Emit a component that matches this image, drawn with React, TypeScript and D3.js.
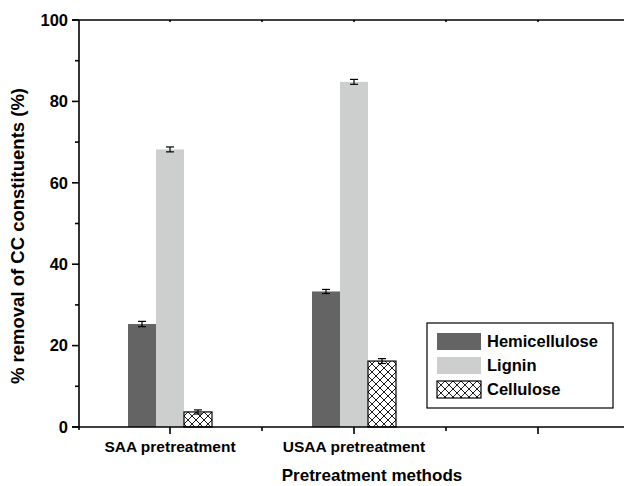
import React from "react";
import * as d3 from "d3";

const categories = ["SAA pretreatment", "USAA pretreatment", ""];
const seriesNames = ["Hemicellulose", "Lignin", "Cellulose"];
const hemicellulose = [25.3, 33.3];
const lignin = [68.2, 84.8];
const cellulose = [3.7, 16.2];
const hemiErr = [0.65, 0.5];
const ligninErr = [0.6, 0.6];
const celluloseErr = [0.5, 0.6];
const yTicks = [0, 20, 40, 60, 80, 100];
const yMinorTicks = [10, 30, 50, 70, 90];
const xMajor = [1, 2, 3];
const xMinor = [1.5, 2.5];

const W = 624;
const H = 486;
const FONT = "'Liberation Sans', Arial, sans-serif";

export default function App() {
  const y = d3.scaleLinear().domain([0, 100]).range([427, 20]);
  const x = d3.scaleLinear().domain([0.5, 3.5]).range([78, 630]);
  const sub = d3.scaleBand<string>().domain(seriesNames).range([-42, 42]).padding(0);
  const values = [hemicellulose, lignin, cellulose];
  const errs = [hemiErr, ligninErr, celluloseErr];
  const fills = ["#646464", "#cdcfce", "url(#hatch)"];
  const x0 = 79;
  const y0 = y(0);
  const yTop = y(100);

  return (
    <svg width={W} height={H} style={{ position: "absolute", left: 0, top: 0, background: "#fff" }}>
      <defs>
        <pattern id="hatch" patternUnits="userSpaceOnUse" width={8} height={8}>
          <rect width={8} height={8} fill="#fff" />
          <path d="M0,0 L8,8 M8,0 L0,8 M-1,7 L1,9 M7,-1 L9,1 M-1,1 L1,-1 M7,9 L9,7" stroke="#000" strokeWidth={0.9} />
        </pattern>
      </defs>
      {/* bars */}
      {values.map((vals, si) =>
        vals.map((v, ci) => {
          const bx = x(ci + 1) + (sub(seriesNames[si]) as number);
          const bw = sub.bandwidth();
          return (
            <g key={`${si}-${ci}`}>
              <rect
                x={bx}
                y={y(v)}
                width={bw}
                height={y0 - y(v)}
                fill={fills[si]}
                stroke={si === 2 ? "#000" : "none"}
                strokeWidth={1.2}
              />
              <g stroke="#000" strokeWidth={1.2}>
                <line x1={bx + bw / 2} x2={bx + bw / 2} y1={y(v + errs[si][ci])} y2={y(v - errs[si][ci])} />
                <line x1={bx + bw / 2 - 4} x2={bx + bw / 2 + 4} y1={y(v + errs[si][ci])} y2={y(v + errs[si][ci])} />
                <line x1={bx + bw / 2 - 4} x2={bx + bw / 2 + 4} y1={y(v - errs[si][ci])} y2={y(v - errs[si][ci])} />
              </g>
            </g>
          );
        })
      )}
      {/* axes */}
      <g stroke="#000" strokeWidth={1.6}>
        <line x1={x0} x2={x0} y1={yTop} y2={y0 + 3} />
        <line x1={x0 - 7} x2={W} y1={y0} y2={y0} />
        <line x1={x0 - 7} x2={W} y1={yTop} y2={yTop} />
        {yTicks.map((t) => (
          <line key={t} x1={x0 - 7} x2={x0} y1={y(t)} y2={y(t)} />
        ))}
        {yMinorTicks.map((t) => (
          <line key={t} x1={x0 - 4} x2={x0} y1={y(t)} y2={y(t)} />
        ))}
        {xMajor.map((t) => (
          <line key={t} x1={x(t)} x2={x(t)} y1={y0} y2={y0 + 7} />
        ))}
        {xMinor.map((t) => (
          <line key={t} x1={x(t)} x2={x(t)} y1={y0} y2={y0 + 4} />
        ))}
        {[...xMajor, ...xMinor].map((t) => (
          <line key={"top" + t} x1={x(t)} x2={x(t)} y1={yTop} y2={yTop + 2} />
        ))}
      </g>
      <g fontFamily={FONT} fontWeight="bold" fill="#000">
        {yTicks.map((t) => (
          <text key={t} x={x0 - 11} y={y(t)} dy="0.35em" textAnchor="end" fontSize={16.5}>
            {t}
          </text>
        ))}
        {categories.map((c, i) => (
          <text key={i} x={x(i + 1)} y={y0 + 25} textAnchor="middle" fontSize={15.5}>
            {c}
          </text>
        ))}
      </g>
      <text x={372} y={481} textAnchor="middle" fontFamily={FONT} fontWeight="bold" fontSize={17}>
        Pretreatment methods
      </text>
      <text
        transform={`translate(24, 236) rotate(-90)`}
        textAnchor="middle"
        fontFamily={FONT}
        fontWeight="bold"
        fontSize={18.5}
      >
        % removal of CC constituents (%)
      </text>
      {/* legend */}
      <g>
        <rect x={427} y={323} width={186} height={85} fill="#fff" stroke="#000" strokeWidth={1.2} />
        {seriesNames.map((s, i) => (
          <g key={s} transform={`translate(437, ${333 + i * 24})`}>
            <rect width={44} height={17} fill={fills[i]} stroke={i === 2 ? "#000" : "none"} strokeWidth={1.2} />
            <text x={50} y={8.5} dy="0.36em" fontFamily={FONT} fontWeight="bold" fontSize={16.5}>
              {s}
            </text>
          </g>
        ))}
      </g>
    </svg>
  );
}
